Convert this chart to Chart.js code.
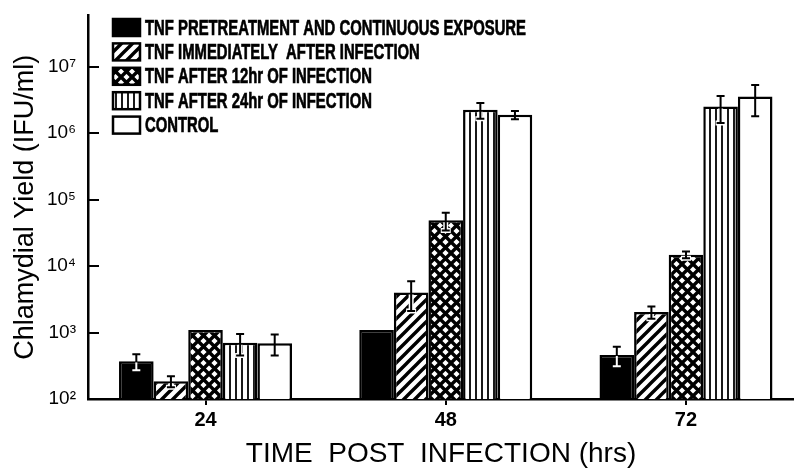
<!DOCTYPE html>
<html>
<head>
<meta charset="utf-8">
<script src="https://cdn.jsdelivr.net/npm/chart.js@4.4.0/dist/chart.umd.min.js"></script>
<style>
  html, body { margin: 0; padding: 0; background: #fff; overflow: hidden; }
</style>
</head>
<body>
<canvas id="chart" width="794" height="468"></canvas>
<script>
// values (IFU/ml), errors are +/- in the same units
const hours = [24, 48, 72];
const xTicks = [24, 48, 72];
const yTicks = [1e2, 1e3, 1e4, 1e5, 1e6, 1e7];
const seriesLabels = [
  'TNF PRETREATMENT AND CONTINUOUS EXPOSURE',
  'TNF IMMEDIATELY  AFTER INFECTION',
  'TNF AFTER 12hr OF INFECTION',
  'TNF AFTER 24hr OF INFECTION',
  'CONTROL',
];
const pretreat     = [370, 1090, 460];
const pretreatErr  = [100, 0, 150];
const immediate    = [185, 4000, 2040];
const immediateErr = [35, 1900, 430];
const after12      = [1090, 48900, 14800];
const after12Err   = [0, 14500, 1700];
const after24      = [700, 2250000, 2520000];
const after24Err   = [250, 600000, 1100000];
const control      = [690, 1890000, 3550000];
const controlErr   = [240, 270000, 1750000];

const FONT = '"Liberation Sans", Arial, Helvetica, sans-serif';
const SUP = { 2: '²', 3: '³', 4: '⁴', 5: '⁵', 6: '⁶', 7: '⁷' };

function makeTile(w, h, draw) {
  const c = document.createElement('canvas');
  c.width = w; c.height = h;
  const g = c.getContext('2d');
  g.fillStyle = '#fff';
  g.fillRect(0, 0, w, h);
  g.strokeStyle = '#000';
  draw(g, w, h);
  return document.getElementById('chart').getContext('2d').createPattern(c, 'repeat');
}

const hatch = makeTile(11, 11, (g, w, h) => {
  g.lineWidth = 3.4;
  g.beginPath();
  g.moveTo(-2, h + 2); g.lineTo(w + 2, -2);
  g.moveTo(-2, 2); g.lineTo(2, -2);
  g.moveTo(w - 2, h + 2); g.lineTo(w + 2, h - 2);
  g.stroke();
});

const cross = makeTile(11, 11, (g, w, h) => {
  g.lineWidth = 3.4;
  g.beginPath();
  g.moveTo(-2, -2); g.lineTo(w + 2, h + 2);
  g.moveTo(-2, h + 2); g.lineTo(w + 2, -2);
  g.stroke();
});

const stripes = makeTile(6, 6, (g, w, h) => {
  g.lineWidth = 1.8;
  g.beginPath();
  g.moveTo(2, 0); g.lineTo(2, h);
  g.stroke();
});

const fills = ['#000', hatch, cross, stripes, '#fff'];
const values = [pretreat, immediate, after12, after24, control];
const errors = [pretreatErr, immediateErr, after12Err, after24Err, controlErr];

const datasets = seriesLabels.map((label, i) => ({
  label,
  data: hours.map((h, j) => ({ x: h, y: values[i][j] })),
  errors: errors[i],
  backgroundColor: fills[i],
  borderColor: '#000',
  borderWidth: 2.5,
  barPercentage: 1,
  categoryPercentage: 0.72,
}));

// error bars: black above the bar, white inside the solid bar
const errorBars = {
  id: 'errorBars',
  afterDatasetsDraw(chart) {
    const ctx = chart.ctx;
    const y = chart.scales.y;
    ctx.save();
    chart.data.datasets.forEach((ds, di) => {
      chart.getDatasetMeta(di).data.forEach((bar, i) => {
        const e = ds.errors[i];
        if (!e) return;
        const v = ds.data[i].y;
        const yHi = y.getPixelForValue(v + e);
        const yLo = y.getPixelForValue(Math.max(v - e, 1));
        const x = bar.x;
        const inner = di === 0 ? '#fff' : '#000';
        if (di > 0 && di < 4) {
          ctx.strokeStyle = '#fff';
          ctx.lineWidth = 5;
          ctx.beginPath();
          ctx.moveTo(x, bar.y + 2); ctx.lineTo(x, yLo);
          ctx.moveTo(x - 5, yLo); ctx.lineTo(x + 5, yLo);
          ctx.stroke();
        }
        ctx.lineWidth = 2;
        ctx.strokeStyle = inner;
        ctx.beginPath();
        ctx.moveTo(x, bar.y + 1); ctx.lineTo(x, yLo);
        ctx.moveTo(x - 4, yLo); ctx.lineTo(x + 4, yLo);
        ctx.stroke();
        ctx.strokeStyle = '#000';
        ctx.beginPath();
        ctx.moveTo(x, bar.y + 1); ctx.lineTo(x, yHi);
        ctx.moveTo(x - 4, yHi); ctx.lineTo(x + 4, yHi);
        ctx.stroke();
      });
    });
    ctx.restore();
  },
};

// y ticks point inward, the legend sits top-left inside the plot
const decor = {
  id: 'decor',
  afterDraw(chart) {
    const ctx = chart.ctx;
    const { left } = chart.chartArea;
    const y = chart.scales.y;
    ctx.save();
    ctx.strokeStyle = '#000';
    ctx.lineWidth = 2;
    ctx.beginPath();
    yTicks.forEach(v => {
      const py = Math.round(y.getPixelForValue(v));
      ctx.moveTo(left, py); ctx.lineTo(left + 11, py);
    });
    ctx.stroke();

    ctx.font = 'bold 22px ' + FONT;
    const sx = 381 / ctx.measureText(chart.data.datasets[0].label).width;
    chart.data.datasets.forEach((ds, i) => {
      const cy = 27.5 + i * 24.4;
      ctx.fillStyle = ds.backgroundColor;
      ctx.fillRect(113, cy - 8.5, 27, 17);
      ctx.lineWidth = 2.5;
      ctx.strokeStyle = '#000';
      ctx.strokeRect(113, cy - 8.5, 27, 17);
      ctx.save();
      ctx.translate(145, cy);
      ctx.scale(sx, 1);
      ctx.fillStyle = '#000';
      ctx.strokeStyle = '#000';
      ctx.lineWidth = 0.7;
      ctx.textBaseline = 'middle';
      ctx.fillText(ds.label, 0, 1);
      ctx.strokeText(ds.label, 0, 1);
      ctx.restore();
    });
    ctx.restore();
  },
};

new Chart(document.getElementById('chart').getContext('2d'), {
  type: 'bar',
  data: { datasets },
  plugins: [errorBars, decor],
  options: {
    responsive: false,
    animation: false,
    events: [],
    layout: { padding: { top: 10, right: 0, left: 0, bottom: 0 } },
    plugins: { legend: { display: false }, tooltip: { enabled: false } },
    scales: {
      x: {
        type: 'linear',
        min: 12.26,
        max: 82.79,
        offset: false,
        afterBuildTicks: s => { s.ticks = xTicks.map(v => ({ value: v })); },
        afterFit: s => { s.height = 69; },
        grid: { offset: false, drawOnChartArea: false, color: '#000', lineWidth: 2, tickLength: 6 },
        border: { color: '#000', width: 2.5 },
        ticks: {
          color: '#000', padding: 3,
          font: { size: 20, weight: 'bold', family: FONT },
          callback: v => String(v),
        },
        title: {
          display: true, text: 'TIME  POST  INFECTION (hrs)', color: '#000',
          font: { size: 28, family: FONT, lineHeight: 1 },
          padding: { top: 0, bottom: 0 },
        },
      },
      y: {
        type: 'logarithmic',
        min: 100,
        max: 5.9e7,
        afterBuildTicks: s => { s.ticks = yTicks.map(v => ({ value: v })); },
        afterFit: s => { s.width = 88; },
        grid: { display: false },
        border: { color: '#000', width: 2.5 },
        ticks: {
          color: '#000', padding: 4,
          font: { size: 19, family: FONT },
          callback: v => '10' + SUP[Math.round(Math.log10(v))],
        },
        title: {
          display: true, text: 'Chlamydial Yield (IFU/ml)', color: '#000',
          font: { size: 27, family: FONT },
          padding: { top: 9, bottom: 0 },
        },
      },
    },
  },
});
</script>
</body>
</html>
